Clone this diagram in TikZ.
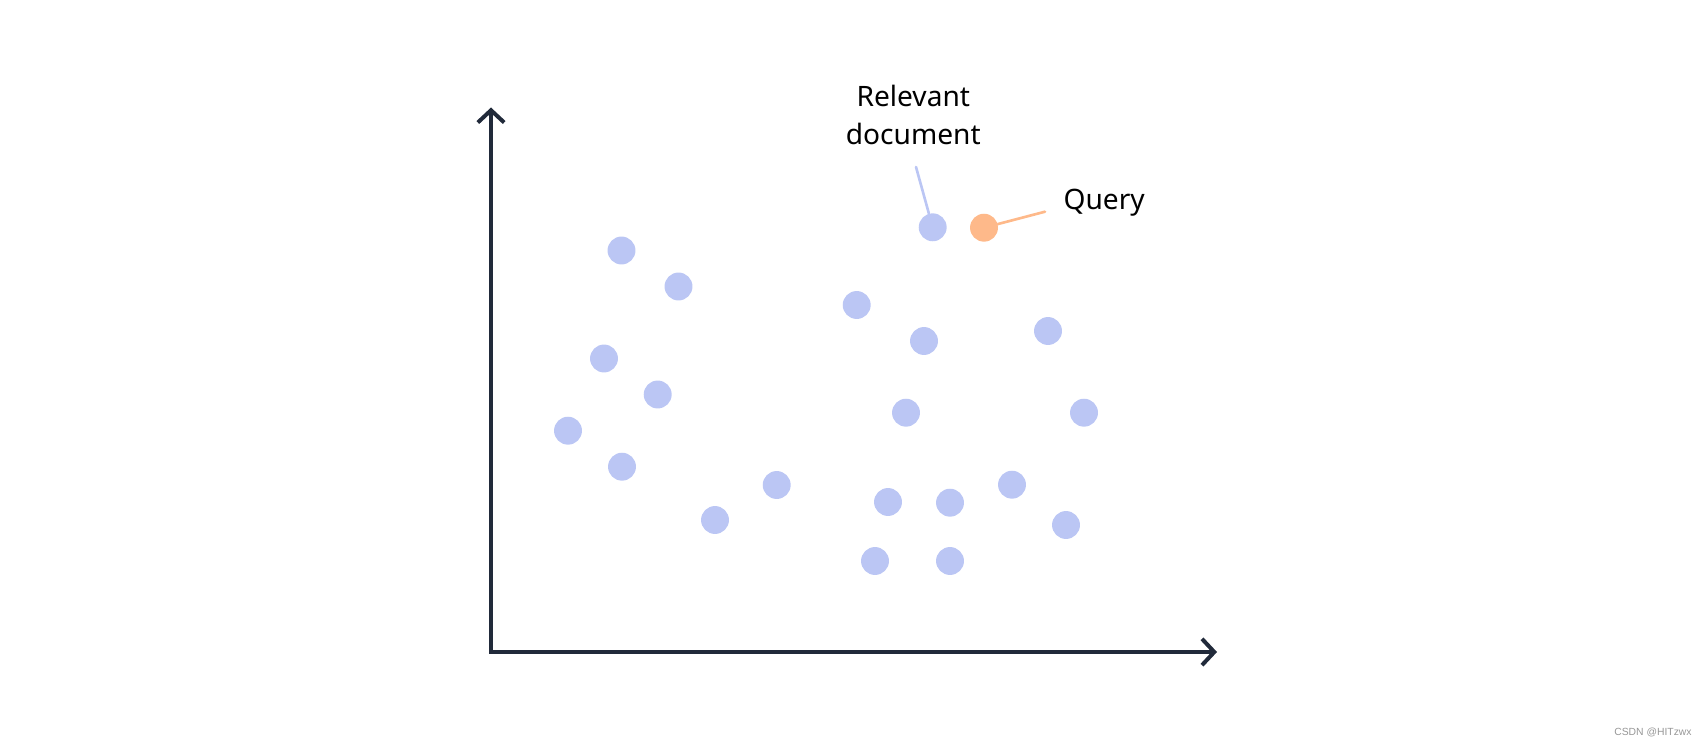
\documentclass[tikz,border=0pt]{standalone}
\usepackage{fontspec}
\setmainfont{Noto Sans}
\newfontfamily\wmfont{Liberation Sans}
\usepackage{tikz}
\usetikzlibrary{arrows.meta, positioning}
\definecolor{axisnavy}{RGB}{33,42,58}
\definecolor{docblue}{RGB}{187,198,244}
\definecolor{queryorange}{RGB}{254,185,138}
\definecolor{wmgray}{RGB}{150,150,150}

\begin{document}
\begin{tikzpicture}[x=0.02cm, y=-0.02cm, line join=round, line cap=round,
    doc/.style={circle, fill=docblue, inner sep=0pt, minimum size=15.9pt},
    qry/.style={circle, fill=queryorange, inner sep=0pt, minimum size=15.9pt},
    lbl/.style={font=\fontsize{16}{21.7}\selectfont, inner sep=0pt},
    axisline/.style={line width=2.27pt, color=axisnavy, line join=miter,
        {Straight Barb[length=7pt, width=15pt]}-{Straight Barb[length=7pt, width=15pt]}}]
    \useasboundingbox (0,0) rectangle (1707,746);

    % Axes
    \coordinate (ytop) at (491,107.5);
    \coordinate (origin) at (491,652);
    \coordinate (xend) at (1217,652);
    \draw[axisline] (ytop) -- (origin) -- (xend);

    % Documents
    \foreach \name/\px/\py in {d1/621.5/250.5, d2/678.5/286.5, d3/604/358.5,
        d4/657.7/394.5, d5/568/430.7, d6/622/466.7, d7/715/520, d8/776.7/485,
        d9/856.7/305, d10/924/341, d11/1048/331, d12/906/412.7, d13/1084/412.7,
        d14/1012/484.7, d15/888/502, d16/950/502.7, d17/1066/525,
        d18/875/561, d19/950/561}
        \node[doc] (\name) at (\px,\py) {};

    % Relevant document and query
    \node[doc] (reldoc) at (932.7,227.3) {};
    \node[qry] (query) at (984,227.7) {};

    % Labels
    \node[lbl, align=center, anchor=base] (rellabel) at (913.3,145) {Relevant\\document};
    \node[lbl, anchor=base west] (querylabel) at (1063.3,210) {Query};
    \coordinate (relend) at (916,167);
    \coordinate (queryend) at (1045,211.7);
    \draw[docblue, line width=1.5pt] (relend) -- (reldoc);
    \draw[queryorange, line width=1.5pt] (queryend) -- (query);

    % Watermark
    \node[anchor=east, inner sep=0pt, text=wmgray, font=\wmfont\fontsize{5.9}{7}\selectfont] (wm) at (1692,732) {CSDN @HITzwx};
\end{tikzpicture}
\end{document}
